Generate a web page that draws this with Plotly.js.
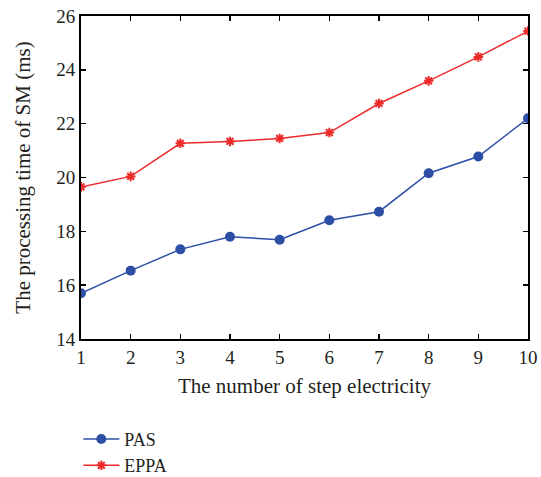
<!DOCTYPE html>
<html>
<head>
<meta charset="utf-8">
<script src="https://cdn.plot.ly/plotly-3.0.1.min.js"></script>
<style>html,body{margin:0;padding:0;background:#fff;}#chart{width:541px;height:477px;}</style>
</head>
<body>
<div id="chart"></div>
<script>
const steps = [1, 2, 3, 4, 5, 6, 7, 8, 9, 10];
const pasValues = [15.70, 16.54, 17.33, 17.80, 17.69, 18.41, 18.73, 20.16, 20.78, 22.20];
const eppaValues = [19.65, 20.04, 21.27, 21.34, 21.45, 21.67, 22.75, 23.59, 24.48, 25.44];
const xTicks = [1, 2, 3, 4, 5, 6, 7, 8, 9, 10];
const yTicks = [14, 16, 18, 20, 22, 24, 26];

const fontFamily = '"Liberation Serif", "DejaVu Serif", serif';
const textColor = '#231f20';

const traces = [
  {
    x: steps, y: pasValues, name: 'PAS', type: 'scatter', mode: 'lines+markers',
    line: {color: '#2d4ea5', width: 1.5},
    marker: {symbol: 'circle', size: 10, color: '#2d4ea5'}
  },
  {
    x: steps, y: eppaValues, name: 'EPPA', type: 'scatter', mode: 'lines+markers',
    line: {color: '#ee2b2b', width: 1.5},
    marker: {symbol: 'asterisk-open', size: 8, color: '#ee2b2b', line: {color: '#ee2b2b', width: 2}}
  }
];

const axisCommon = {
  showline: true, linecolor: '#000', linewidth: 2, mirror: 'ticks',
  ticks: 'inside', ticklen: 5, tickwidth: 1.5, tickcolor: '#000',
  showgrid: false, zeroline: false,
  tickfont: {family: fontFamily, size: 19, color: textColor}
};

const layout = {
  width: 541, height: 477,
  margin: {l: 81, r: 13, t: 16, b: 138, autoexpand: false},
  paper_bgcolor: '#fff', plot_bgcolor: '#fff',
  font: {family: fontFamily, color: textColor},
  xaxis: Object.assign({}, axisCommon, {
    range: [1, 10], tickvals: xTicks, ticktext: xTicks.map(String),
    title: {text: 'The number of step electricity', font: {family: fontFamily, size: 21, color: textColor}, standoff: 12}
  }),
  yaxis: Object.assign({}, axisCommon, {
    range: [14, 26], tickvals: yTicks, ticktext: yTicks.map(String),
    title: {text: 'The processing time of SM (ms)', font: {family: fontFamily, size: 21, color: textColor}, standoff: 20}
  }),
  showlegend: true,
  legend: {
    x: -0.006, y: -0.253, xanchor: 'left', yanchor: 'top',
    font: {family: fontFamily, size: 18, color: textColor},
    bgcolor: 'rgba(0,0,0,0)', tracegroupgap: 0, itemwidth: 36
  }
};

Plotly.newPlot('chart', traces, layout, {displayModeBar: false, staticPlot: true});
</script>
</body>
</html>
